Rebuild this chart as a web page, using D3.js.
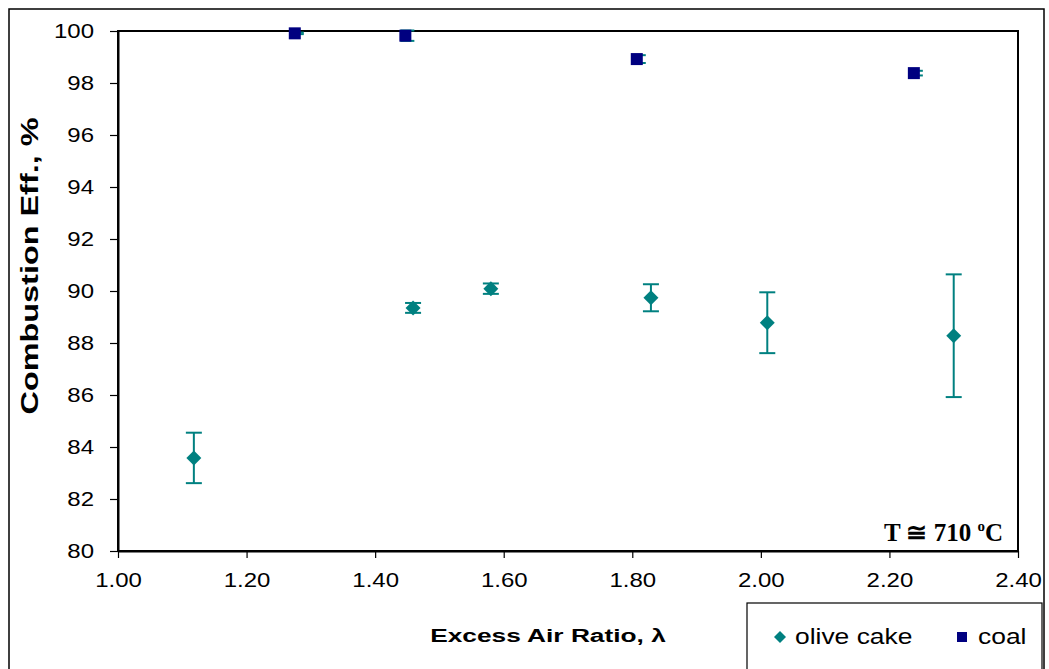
<!DOCTYPE html>
<html>
<head>
<meta charset="utf-8">
<script src="https://cdn.jsdelivr.net/npm/d3@7"></script>
<style>
  body { margin: 0; background: #fff; }
  svg { display: block; }
  text { font-family: Arial, "Liberation Sans", sans-serif; fill: #000; }
</style>
</head>
<body>
<div id="chart"></div>
<script>
// olive cake series (x = excess air ratio, y = combustion eff. %, err = +/-)
const oliveX = [1.118, 1.459, 1.580, 1.829, 2.010, 2.300]
const oliveY = [83.58, 89.35, 90.09, 89.74, 88.78, 88.28]
const oliveErr = [0.97, 0.19, 0.20, 0.52, 1.17, 2.36]

// coal series
const coalX = [1.275, 1.447, 1.807, 2.238]
const coalY = [99.91, 99.82, 98.92, 98.38]
const coalErr = [0.03, 0.20, 0.15, 0.09]

const xTicks = [1.0, 1.2, 1.4, 1.6, 1.8, 2.0, 2.2, 2.4]
const yTicks = [80, 82, 84, 86, 88, 90, 92, 94, 96, 98, 100]

const width = 1049, height = 669
const padding = { left: 118, top: 31, right: 31, bottom: 118 }
const teal = '#008080', navy = '#000080'

const svg = d3.select('#chart').append('svg')
    .attr('width', width)
    .attr('height', height)

// stretch text along its run, the original has wide glyphs
function stretch(sel, k) {
    sel.each(function () {
        const w = this.getComputedTextLength()
        d3.select(this).attr('textLength', w * k).attr('lengthAdjust', 'spacingAndGlyphs')
    })
}

// outer frame
svg.append('rect')
    .attr('x', 9).attr('y', 9)
    .attr('width', 1035).attr('height', 700)
    .attr('fill', 'none').attr('stroke', '#000').attr('stroke-width', 1.5)

const x = d3.scaleLinear().domain([1.0, 2.4]).range([padding.left, width - padding.right])
const y = d3.scaleLinear().domain([80, 100]).range([height - padding.bottom, padding.top])

// plot frame
svg.append('rect')
    .attr('x', x(1.0)).attr('y', y(100))
    .attr('width', x(2.4) - x(1.0)).attr('height', y(80) - y(100))
    .attr('fill', 'none').attr('stroke', '#000').attr('stroke-width', 2)

const xAxis = d3.axisBottom(x).tickValues(xTicks).tickFormat(d3.format('.2f'))
    .tickSize(7).tickSizeOuter(0).tickPadding(10)
const yAxis = d3.axisLeft(y).tickValues(yTicks).tickFormat(d3.format('d'))
    .tickSize(8).tickSizeOuter(0).tickPadding(16)

const xAxisSVG = svg.append('g')
    .attr('transform', `translate(0, ${y(80)})`)
    .call(xAxis)
const yAxisSVG = svg.append('g')
    .attr('transform', `translate(${x(1.0)}, 0)`)
    .call(yAxis)

for (const g of [xAxisSVG, yAxisSVG]) {
    g.select('.domain').attr('stroke', '#000').attr('stroke-width', 2)
    g.selectAll('.tick line').attr('stroke', '#000').attr('stroke-width', 1.2)
    g.selectAll('.tick text')
        .attr('font-family', 'Arial, "Liberation Sans", sans-serif')
        .attr('font-size', 19.5)
        .attr('fill', '#000')
        .call(stretch, 1.23)
}
xAxisSVG.selectAll('.tick text').attr('dy', '0.95em')

// error bars
function errorBars(xs, ys, es, capL, capR) {
    const g = svg.append('g').attr('stroke', teal).attr('stroke-width', 2)
    xs.forEach((xv, i) => {
        const cx = x(xv), lo = y(ys[i] - es[i]), hi = y(ys[i] + es[i])
        g.append('line').attr('x1', cx).attr('x2', cx).attr('y1', lo).attr('y2', hi)
        g.append('line').attr('x1', cx - capL).attr('x2', cx + capR).attr('y1', lo).attr('y2', lo)
        g.append('line').attr('x1', cx - capL).attr('x2', cx + capR).attr('y1', hi).attr('y2', hi)
    })
}
errorBars(oliveX, oliveY, oliveErr, 8, 8)
errorBars(coalX, coalY, coalErr, 5, 9)

const diamond = d3.symbol().type(d3.symbolSquare).size(112)
svg.append('g').selectAll('path')
    .data(oliveX)
    .join('path')
    .attr('d', diamond)
    .attr('transform', (d, i) => `translate(${x(d)}, ${y(oliveY[i])}) rotate(45)`)
    .attr('fill', teal)

svg.append('g').selectAll('rect')
    .data(coalX)
    .join('rect')
    .attr('x', d => x(d) - 6)
    .attr('y', (d, i) => y(coalY[i]) - 6)
    .attr('width', 12).attr('height', 12)
    .attr('fill', navy)

// temperature note
const note = svg.append('text')
    .attr('x', x(2.4) - 15).attr('y', y(80) - 10)
    .attr('text-anchor', 'end')
    .style('font-family', '"Liberation Serif", "Times New Roman", serif')
    .attr('font-weight', 'bold')
    .attr('font-size', 25)
note.append('tspan').text('T \u2245 710 ')
note.append('tspan').text('o').attr('font-size', 15).attr('dy', -10)
note.append('tspan').text('C').attr('dy', 10)

// axis titles
svg.append('text')
    .attr('x', 548).attr('y', 642)
    .attr('text-anchor', 'middle')
    .attr('font-weight', 'bold')
    .attr('font-size', 18)
    .text('Excess Air Ratio, \u03bb')
    .call(stretch, 1.46)

svg.append('text')
    .attr('transform', `translate(38, 266) rotate(-90)`)
    .attr('text-anchor', 'middle')
    .attr('font-weight', 'bold')
    .attr('font-size', 23)
    .attr('textLength', 297)
    .attr('lengthAdjust', 'spacingAndGlyphs')
    .text('Combustion Eff., %')

// legend
svg.append('rect')
    .attr('x', 747).attr('y', 603)
    .attr('width', 295).attr('height', 100)
    .attr('fill', '#fff').attr('stroke', '#000').attr('stroke-width', 1.2)
const legend = svg.append('g')
legend.append('path')
    .attr('d', d3.symbol().type(d3.symbolSquare).size(72))
    .attr('transform', 'translate(780, 637) rotate(45)')
    .attr('fill', teal)
legend.append('text')
    .attr('x', 795).attr('y', 644)
    .attr('font-size', 22)
    .text('olive cake')
    .call(stretch, 1.2)
legend.append('rect')
    .attr('x', 957).attr('y', 632)
    .attr('width', 10).attr('height', 10)
    .attr('fill', navy)
legend.append('text')
    .attr('x', 978).attr('y', 644)
    .attr('font-size', 22)
    .text('coal')
    .call(stretch, 1.2)
</script>
</body>
</html>
